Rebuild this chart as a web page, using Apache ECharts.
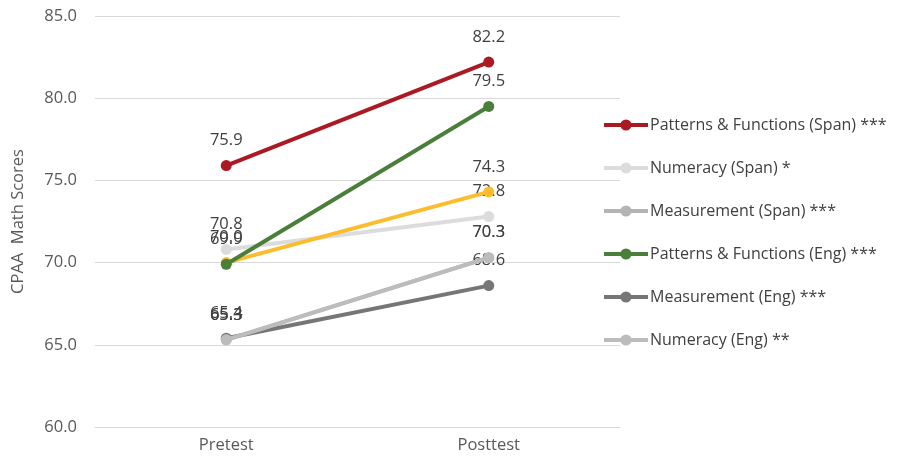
<!DOCTYPE html>
<html>
<head>
<meta charset="utf-8">
<script src="https://cdn.jsdelivr.net/npm/echarts@6/dist/echarts.min.js"></script>
<style>
  html, body { margin: 0; padding: 0; background: #fff; }
  #chart { width: 899px; height: 463px; }
</style>
</head>
<body>
<div id="chart"></div>
<script>
// Test occasions on the category axis
const categories = ['Pretest', 'Posttest'];

// Mean CPAA math scores per strand and language group
const pfSpan   = [75.9, 82.2];
const numSpan  = [70.8, 72.8];
const measSpan = [65.3, 70.3];
const pfEng    = [69.9, 79.5];
const measEng  = [65.4, 68.6];
const numEng   = [65.3, 70.3];
const overall  = [70.0, 74.3];

// Value axis ticks
const yTicks = [60, 65, 70, 75, 80, 85];

const FONT = '"Open Sans", "DejaVu Sans", sans-serif';
const FS = 16.5;

function lineSeries(name, data, color, z) {
  return {
    name: name,
    type: 'line',
    data: data,
    z: z,
    symbol: 'circle',
    symbolSize: 11,
    lineStyle: { width: 4, color: color },
    itemStyle: { color: color },
    label: {
      show: true,
      position: 'top',
      distance: 11,
      color: '#404040',
      fontFamily: FONT,
      fontSize: FS,
      formatter: p => p.value.toFixed(1)
    },
    emphasis: { disabled: true }
  };
}

const chart = echarts.init(document.getElementById('chart'));
chart.setOption({
  animation: false,
  textStyle: { fontFamily: FONT },
  grid: { left: 95, right: 279, top: 16, bottom: 36, containLabel: false },
  legend: {
    orient: 'vertical',
    left: 597,
    top: 112,
    itemWidth: 44,
    itemHeight: 14,
    itemGap: 27,
    lineStyle: { width: 4 },
    textStyle: { color: '#404040', fontSize: 16, fontFamily: FONT, padding: [0, 0, 0, -3] },
    data: [
      'Patterns & Functions (Span) ***',
      'Numeracy (Span) *',
      'Measurement (Span) ***',
      'Patterns & Functions (Eng) ***',
      'Measurement (Eng) ***',
      'Numeracy (Eng) **'
    ]
  },
  xAxis: {
    type: 'category',
    data: categories,
    boundaryGap: true,
    axisLine: { show: true, lineStyle: { color: '#d9d9d9', width: 1 } },
    axisTick: { show: false },
    axisLabel: { color: '#595959', fontSize: FS, fontFamily: FONT, margin: 10 }
  },
  yAxis: {
    type: 'value',
    min: yTicks[0],
    max: yTicks[yTicks.length - 1],
    interval: 5,
    name: 'CPAA  Math Scores',
    nameLocation: 'middle',
    nameGap: 68,
    nameRotate: 90,
    nameTextStyle: { color: '#595959', fontSize: FS, fontFamily: FONT },
    axisLine: { show: false },
    axisTick: { show: false },
    splitLine: { lineStyle: { color: '#d9d9d9', width: 1 } },
    axisLabel: {
      color: '#595959', fontSize: FS, fontFamily: FONT, margin: 18,
      formatter: v => v.toFixed(1)
    }
  },
  series: [
    lineSeries('Measurement (Eng) ***', measEng, '#767676', 2),
    lineSeries('Measurement (Span) ***', measSpan, '#b4b4b6', 3),
    lineSeries('Numeracy (Eng) **', numEng, '#bcbcbe', 4),
    lineSeries('Numeracy (Span) *', numSpan, '#dcdcdc', 5),
    lineSeries('Overall', overall, '#fbbc2d', 6),
    lineSeries('Patterns & Functions (Eng) ***', pfEng, '#4a7f3a', 7),
    lineSeries('Patterns & Functions (Span) ***', pfSpan, '#ab1a22', 8)
  ]
});
</script>
</body>
</html>
